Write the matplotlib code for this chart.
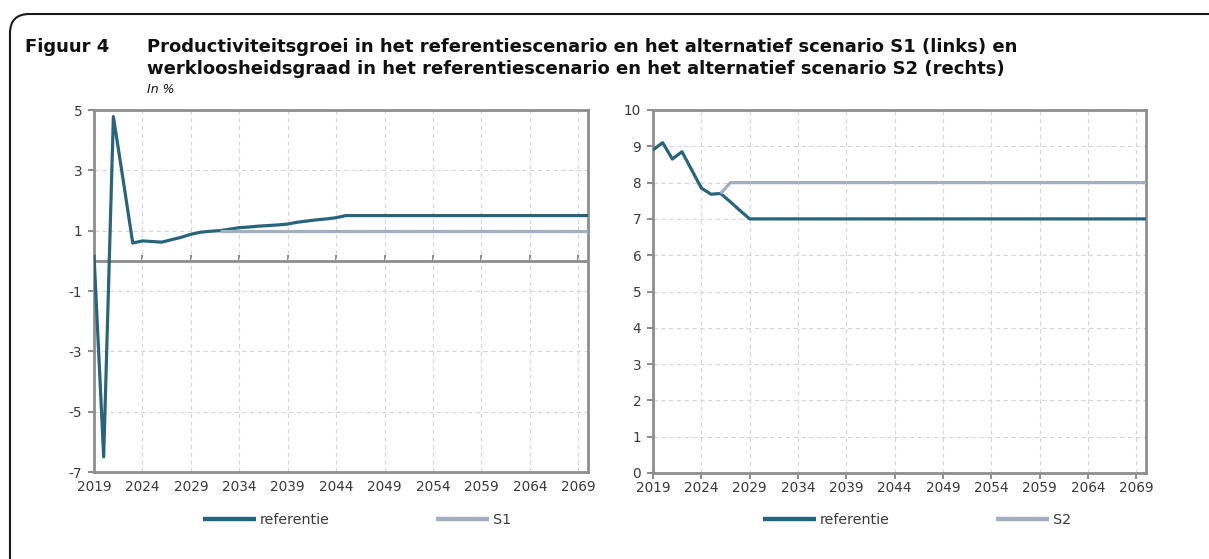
import numpy as np
import matplotlib
matplotlib.use("Agg")
import matplotlib.pyplot as plt
from matplotlib.patches import FancyBboxPatch

# ---------------- data ----------------
years = list(range(2019, 2071))

prod_ref = [0.2, -6.5, 4.78, 2.7, 0.59, 0.66, 0.64, 0.62, 0.7, 0.78, 0.88, 0.95, 0.98,
            1.0, 1.05, 1.1, 1.12, 1.15, 1.17, 1.19, 1.22, 1.28, 1.32, 1.36, 1.39, 1.43] + [1.5] * 26
prod_s1 = [np.nan] * 13 + [1.0] * 39

unemp_ref = [8.9, 9.1, 8.65, 8.85, 8.35, 7.85, 7.68, 7.7, 7.47, 7.23] + [7.0] * 42
unemp_s2 = [np.nan] * 7 + [7.7] + [8.0] * 44

xticks = list(range(2019, 2070, 5))
left_yticks = [-7, -5, -3, -1, 1, 3, 5]
right_yticks = list(range(0, 11))

title_label = "Figuur 4"
title_lines = ["Productiviteitsgroei in het referentiescenario en het alternatief scenario S1 (links) en",
               "werkloosheidsgraad in het referentiescenario en het alternatief scenario S2 (rechts)"]
subtitle = "In %"

# ---------------- style ----------------
REF_C = "#29657a"
ALT_C = "#a3afbf"
SPINE_C = "#8e8e8e"
GRID_C = "#d6d6d6"
TXT_C = "#3a3a3a"

plt.rcParams['font.family'] = ['DejaVu Sans']
plt.rcParams['axes.unicode_minus'] = False

W, H = 1209, 559
fig = plt.figure(figsize=(W / 100, H / 100), dpi=100)

# frame box
box = FancyBboxPatch((10 / W, -0.2), 1.3, (H - 14) / H + 0.2,
                     boxstyle="round,pad=0,rounding_size=0.016",
                     transform=fig.transFigure, fill=False, edgecolor="#1a1a1a",
                     linewidth=1.5, clip_on=False)
box.set_mutation_aspect(W / H)
fig.patches.append(box)

TFS = 13.0
fig.text(25 / W, 1 - 47 / H, title_label, fontsize=TFS, fontweight='bold', color="#111111", va='center')
fig.text(147 / W, 1 - 47 / H, title_lines[0], fontsize=TFS, fontweight='bold', color="#111111", va='center')
fig.text(147 / W, 1 - 69 / H, title_lines[1], fontsize=TFS, fontweight='bold', color="#111111", va='center')
fig.text(147 / W, 1 - 90 / H, subtitle, fontsize=9, fontstyle='italic', color="#111111", va='center')


def make_axes(l, r, t, b):
    return fig.add_axes([l / W, 1 - b / H, (r - l) / W, (b - t) / H])


def style(ax, ylim, yticks, label_alt, ref, alt, leg_x):
    ax.plot(years, ref, color=REF_C, lw=2.3, label="referentie", solid_capstyle='butt', zorder=3)
    ax.plot(years, alt, color=ALT_C, lw=2.3, label=label_alt, solid_capstyle='butt', zorder=3)
    ax.set_xlim(2019, 2070)
    ax.set_ylim(*ylim)
    ax.set_xticks(xticks)
    ax.set_yticks(yticks)
    ax.grid(True, color=GRID_C, linestyle=(0, (4, 3)), linewidth=0.8)
    ax.set_axisbelow(True)
    for s in ax.spines.values():
        s.set_color(SPINE_C)
        s.set_linewidth(2.0)
    ax.tick_params(axis='both', colors=SPINE_C, labelcolor=TXT_C, labelsize=9.8,
                   length=4, width=1.5, direction='out')
    ax.tick_params(axis='x', pad=2)
    ax.tick_params(axis='y', pad=4.5)
    leg = fig.legend(handles=ax.get_lines(), loc='center left',
                     bbox_to_anchor=(leg_x / W, 1 - 520 / H), ncol=2, frameon=False,
                     handlelength=3.7, columnspacing=7.4, fontsize=10.3, handletextpad=0.3,
                     borderpad=0, borderaxespad=0)
    for txt in leg.get_texts():
        txt.set_color(TXT_C)
    for h in leg.get_lines():
        h.set_linewidth(3.2)
    return ax


axL = make_axes(94, 588, 110, 472)
style(axL, (-7, 5), left_yticks, "S1", prod_ref, prod_s1, 203)
axL.axhline(0, color=SPINE_C, lw=2.0, zorder=2)
sec = axL.secondary_xaxis((0 - (-7)) / 12)
sec.set_xticks(xticks)
sec.set_xticklabels([])
sec.tick_params(axis='x', colors=SPINE_C, length=4, width=1.5, direction='out')
sec.spines['bottom'].set_visible(False)
axL.tick_params(axis='x', length=0, pad=6)

axR = make_axes(653, 1146, 110, 473)
style(axR, (0, 10), right_yticks, "S2", unemp_ref, unemp_s2, 763)

fig.savefig("out.png", dpi=100)
